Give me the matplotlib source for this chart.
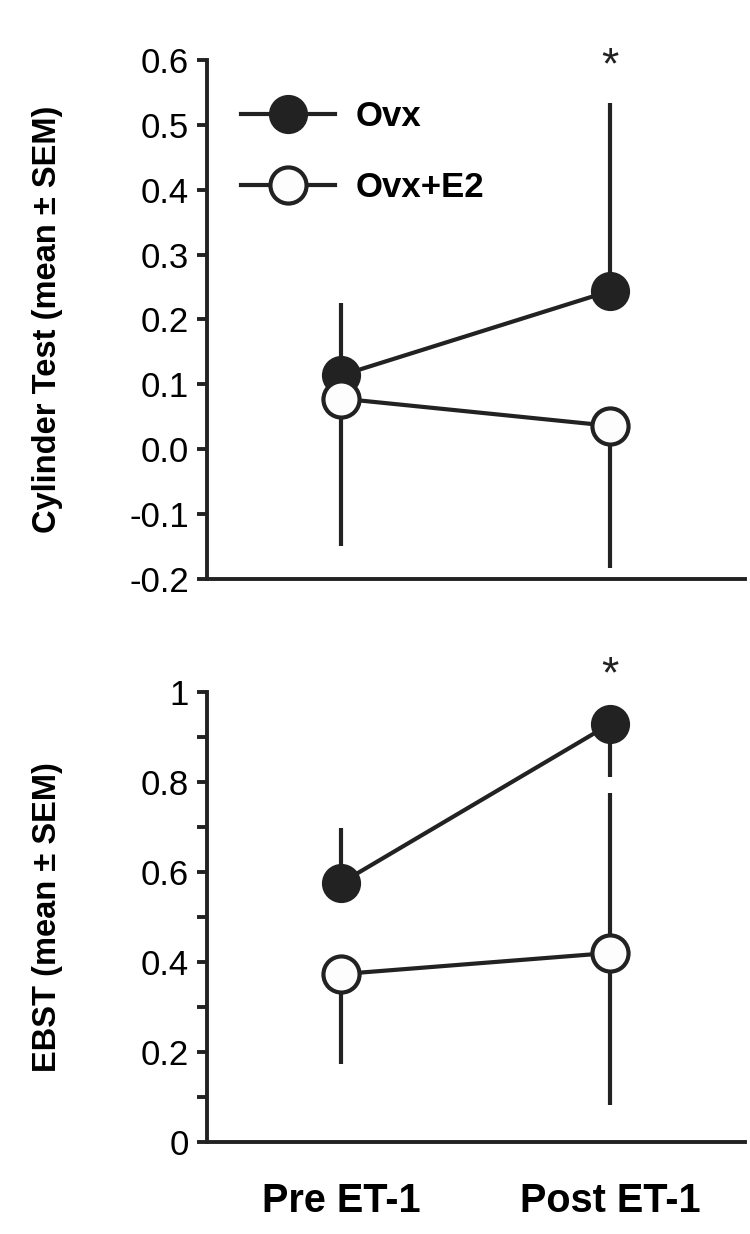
import numpy as np
import matplotlib.pyplot as plt
from matplotlib.lines import Line2D

plt.rcParams['font.family'] = ['Liberation Sans', 'DejaVu Sans']

groups = ['Pre ET-1', 'Post ET-1']
series = ['Ovx', 'Ovx+E2']

# cylinder test
cyl_ovx = [0.114, 0.244]
cyl_ovx_lo = [0.0, 0.0]
cyl_ovx_hi = [0.111, 0.290]
cyl_e2 = [0.078, 0.036]
cyl_e2_lo = [0.227, 0.219]
cyl_e2_hi = [0.0, 0.0]

# EBST
ebst_ovx = [0.576, 0.929]
ebst_ovx_lo = [0.0, 0.118]
ebst_ovx_hi = [0.122, 0.0]
ebst_e2 = [0.373, 0.420]
ebst_e2_lo = [0.200, 0.338]
ebst_e2_hi = [0.0, 0.356]

stars = ['', '*']

ink = '#222222'
x = np.arange(len(groups))

fig = plt.figure(figsize=(7.5, 12.34), dpi=100)
ax1 = fig.add_axes([0.276, 0.5308, 0.717, 0.4206])
ax2 = fig.add_axes([0.276, 0.0746, 0.717, 0.3647])


def draw(ax, m1, lo1, hi1, m2, lo2, hi2):
    ax.errorbar(x, m1, yerr=[lo1, hi1], fmt='-o', color=ink, lw=3, elinewidth=3,
                capsize=0, ms=26, mfc=ink, mec=ink, mew=2.2, zorder=3)
    ax.errorbar(x, m2, yerr=[lo2, hi2], fmt='-o', color=ink, lw=3, elinewidth=3,
                capsize=0, ms=26, mfc='#fdfdfd', mec=ink, mew=3, zorder=4)
    ax.spines['top'].set_visible(False)
    ax.spines['right'].set_visible(False)
    for s in ['left', 'bottom']:
        ax.spines[s].set_linewidth(2.8)
        ax.spines[s].set_color(ink)
    ax.set_xlim(-0.5, 1.5)
    ax.tick_params(axis='y', direction='out', length=7, width=2.8, color=ink,
                   labelsize=25, pad=6)
    ax.tick_params(axis='x', length=0)
    ax.yaxis.set_label_coords(-0.268, 0.5)


draw(ax1, cyl_ovx, cyl_ovx_lo, cyl_ovx_hi, cyl_e2, cyl_e2_lo, cyl_e2_hi)
draw(ax2, ebst_ovx, ebst_ovx_lo, ebst_ovx_hi, ebst_e2, ebst_e2_lo, ebst_e2_hi)

ax1.set_ylim(-0.2, 0.6)
ax1.set_yticks(np.arange(-0.2, 0.61, 0.1))
ax1.set_yticklabels(['%.1f' % v for v in np.arange(-0.2, 0.61, 0.1)])
ax1.set_xticks([])
ax1.set_ylabel('Cylinder Test (mean \u00b1 SEM)', fontsize=23.5, fontweight='bold')

ax2.set_ylim(0, 1)
ax2.set_yticks(np.arange(0, 1.01, 0.1))
ax2.set_yticklabels(['0', '', '0.2', '', '0.4', '', '0.6', '', '0.8', '', '1'])
ax2.set_xticks(x)
ax2.set_xticklabels(groups, fontsize=28.5, fontweight='bold')
ax2.tick_params(axis='x', pad=29)
ax2.set_ylabel('EBST (mean \u00b1 SEM)', fontsize=23.5, fontweight='bold')

for i, s in enumerate(stars):
    ax1.text(x[i], 0.558, s, ha='center', va='bottom', fontsize=32, color=ink)
    ax2.text(x[i], 0.99, s, ha='center', va='bottom', fontsize=32, color=ink)

handles = [
    Line2D([], [], color=ink, lw=3, marker='o', ms=26, mfc=ink, mec=ink, mew=2.2),
    Line2D([], [], color=ink, lw=3, marker='o', ms=26, mfc='#fdfdfd', mec=ink, mew=3),
]
leg = ax1.legend(handles, series, loc='upper left', bbox_to_anchor=(0.038, 0.95),
                 frameon=False, handlelength=2.7, labelspacing=1.1, handletextpad=0.6,
                 borderaxespad=0, prop={'size': 25, 'weight': 'bold'})

fig.savefig('out.png', dpi=100)
